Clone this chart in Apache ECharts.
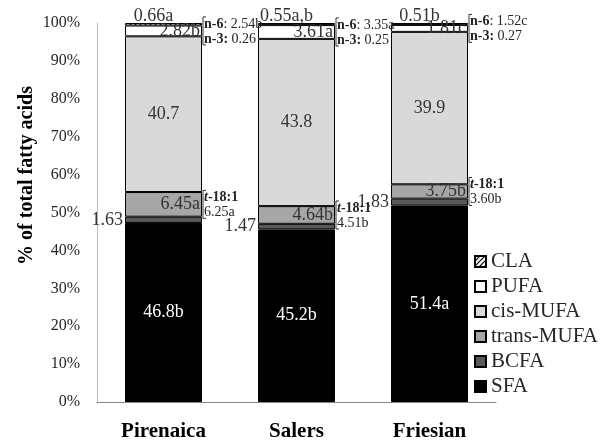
<!DOCTYPE html>
<html>
<head>
<meta charset="utf-8">
<script src="https://cdn.jsdelivr.net/npm/echarts@6/dist/echarts.min.js"></script>
<style>html,body{margin:0;padding:0;background:#fff;}#c{width:602px;height:442px;}</style>
</head>
<body>
<div id="c"></div>
<script>
// ---- data ----
const categories = ['Pirenaica', 'Salers', 'Friesian'];
const sfa = [46.8, 45.2, 51.4];
const sfaSig = ['b', 'b', 'a'];
const bcfa = [1.63, 1.47, 1.83];
const bcfaSig = ['', '', ''];
const transMufa = [6.45, 4.64, 3.75];
const transSig = ['a', 'b', 'b'];
const cisMufa = [40.7, 43.8, 39.9];
const cisSig = ['', '', ''];
const pufa = [2.82, 3.61, 1.81];
const pufaSig = ['b', 'a', 'c'];
const cla = [0.66, 0.55, 0.51];
const claSig = ['a', 'a,b', 'b'];
const n6Text = ['2.54b', '3.35a', '1.52c'];
const n3Text = ['0.26', '0.25', '0.27'];
const t181Text = ['6.25a', '4.51b', '3.60b'];

// ---- derived (100% stacked) ----
const groups = [sfa, bcfa, transMufa, cisMufa, pufa, cla];
const totals = categories.map((_, i) => groups.reduce((s, g) => s + g[i], 0));
const norm = arr => arr.map((v, i) => v / totals[i] * 100);
const cum = k => categories.map((_, i) => {
  let s = 0; for (let j = 0; j < k; j++) s += groups[j][i];
  return s / totals[i] * 100;
});

const FONT = '"Liberation Serif", "Times New Roman", serif';
const TXT = '#262626';
const BAR_W = 77;

// hatch pattern for CLA
const pc = document.createElement('canvas');
pc.width = 5; pc.height = 5;
const px = pc.getContext('2d');
px.fillStyle = '#fff'; px.fillRect(0, 0, 5, 5);
px.strokeStyle = '#000'; px.lineWidth = 1.2;
px.beginPath(); px.moveTo(0, 5); px.lineTo(5, 0); px.moveTo(-1, 1); px.lineTo(1, -1); px.moveTo(4, 6); px.lineTo(6, 4); px.stroke();

function barSeries(name, vals, sig, color, label) {
  return {
    name, type: 'bar', stack: 'all', barWidth: BAR_W,
    data: norm(vals),
    itemStyle: { color, borderColor: '#000', borderWidth: 1 },
    label: Object.assign({
      show: true, fontFamily: FONT, fontSize: 18, color: '#333',
      formatter: p => String(vals[p.dataIndex]) + sig[p.dataIndex]
    }, label),
    emphasis: { disabled: true }
  };
}

const BFS = 14;
function bracketSeries(lo, hi, line1Fn, line2Fn) {
  return {
    type: 'custom', silent: true, clip: false, z: 10,
    data: categories.map((_, i) => [i, lo[i], hi[i]]),
    encode: { x: 0, y: [1, 2] },
    renderItem: (params, api) => {
      const i = params.dataIndex;
      const a = api.coord([api.value(0), api.value(1)]);
      const b = api.coord([api.value(0), api.value(2)]);
      const yc = (a[1] + b[1]) / 2;
      const x = a[0] + BAR_W / 2 + 1;
      const base = { fontFamily: FONT, fontSize: BFS, fill: TXT, verticalAlign: 'middle', align: 'left' };
      return {
        type: 'group',
        children: [
          { type: 'polyline', shape: { points: [[x + 3, yc - 14], [x, yc - 14], [x, yc + 14], [x + 3, yc + 14]] },
            style: { stroke: '#333', lineWidth: 1, fill: null } },
          { type: 'text', x: x + 1, y: yc - 7, style: Object.assign({}, base, line1Fn(i)) },
          { type: 'text', x: x + 1, y: yc + 8, style: Object.assign({}, base, line2Fn(i)) }
        ]
      };
    }
  };
}
const boldRich = { fontWeight: 'bold', fontFamily: FONT, fontSize: BFS, fill: TXT };

const chart = echarts.init(document.getElementById('c'), null, { renderer: 'canvas' });
chart.setOption({
  animation: false,
  textStyle: { fontFamily: FONT },
  grid: { left: 97, right: 106, top: 23, bottom: 38, containLabel: false },
  legend: {
    orient: 'vertical', left: 469, top: 246,
    itemWidth: 11, itemHeight: 11, itemGap: 4, icon: 'rect',
    textStyle: { fontFamily: FONT, fontSize: 21, color: TXT },
    data: ['CLA', 'PUFA', 'cis-MUFA', 'trans-MUFA', 'BCFA', 'SFA']
  },
  xAxis: {
    type: 'category', data: categories,
    axisLine: { lineStyle: { color: '#868686', width: 1 } },
    axisTick: { show: false },
    axisLabel: { fontFamily: FONT, fontSize: 21, fontWeight: 'bold', color: '#000', margin: 19 }
  },
  yAxis: {
    type: 'value', min: 0, max: 100, interval: 10,
    name: '% of total fatty acids', nameLocation: 'middle', nameGap: 60, nameMoveOverlap: false,
    nameTextStyle: { fontFamily: FONT, fontSize: 20, fontWeight: 'bold', color: '#000', padding: [0, 0, 0, 74] },
    axisLine: { show: true, lineStyle: { color: '#bfbfbf', width: 1 } },
    axisTick: { show: false },
    splitLine: { show: false },
    axisLabel: { fontFamily: FONT, fontSize: 16, color: TXT, margin: 17, formatter: '{value}%' }
  },
  series: [
    barSeries('SFA', sfa, sfaSig, '#000000', { position: 'inside', color: '#fff' }),
    barSeries('BCFA', bcfa, bcfaSig, '#595959', { position: 'left', distance: 2 }),
    barSeries('trans-MUFA', transMufa, transSig, '#a6a6a6', { position: 'insideRight', distance: 2 }),
    barSeries('cis-MUFA', cisMufa, cisSig, '#d9d9d9', { position: 'inside' }),
    barSeries('PUFA', pufa, pufaSig, '#ffffff', { position: 'insideRight', distance: 2 }),
    barSeries('CLA', cla, claSig, { image: pc, repeat: 'repeat' }, { position: 'top', distance: 1, offset: [-10, 3] }),
    bracketSeries(cum(4), cum(5),
      i => ({ text: '{b|n-6}: ' + n6Text[i], rich: { b: boldRich } }),
      i => ({ text: '{b|n-3:} ' + n3Text[i], rich: { b: boldRich } })),
    bracketSeries(cum(2), cum(3),
      i => ({ text: '{bi|t}{b|-18:1}', rich: { b: boldRich, bi: Object.assign({ fontStyle: 'italic' }, boldRich) } }),
      i => ({ text: t181Text[i] }))
  ]
});
</script>
</body>
</html>
